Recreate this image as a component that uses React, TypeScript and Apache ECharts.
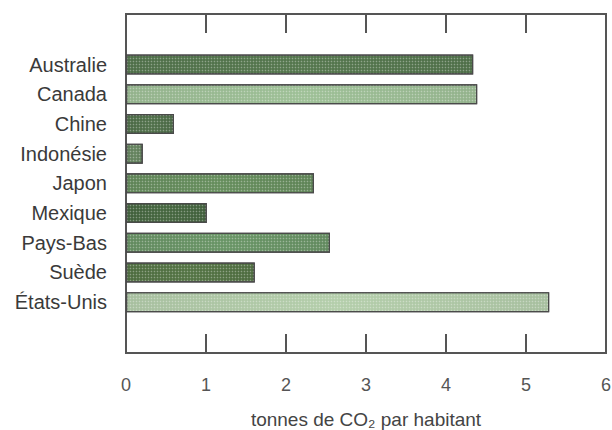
import React, { useEffect, useRef } from "react";
import * as echarts from "echarts";

const countries = ["Australie", "Canada", "Chine", "Indonésie", "Japon", "Mexique", "Pays-Bas", "Suède", "États-Unis"];
const emissions = [4.34, 4.39, 0.6, 0.21, 2.35, 1.01, 2.55, 1.61, 5.29];
const barColors = ["#4f6f49", "#93b28c", "#4b6946", "#5f7c59", "#5f8457", "#41603c", "#628a5f", "#4e6c40", "#a7bf9f"];
const axisName = "tonnes de CO₂ par habitant";

const FONT = "'Liberation Sans', Arial, Helvetica, sans-serif";

export default function App() {
  const ref = useRef<HTMLDivElement>(null);
  useEffect(() => {
    if (!ref.current) return;
    const chart = echarts.init(ref.current, undefined, { renderer: "svg" });
    const L = 126;
    const R = 6;
    chart.setOption({
      animation: false,
      backgroundColor: "#ffffff",
      aria: { enabled: true, decal: { show: true } },
      grid: [
        { left: L, right: R, top: 14, bottom: 77, show: true, borderColor: "#555555", borderWidth: 2, backgroundColor: "transparent", outerBoundsMode: "none", containLabel: false },
        { left: L, right: R, top: 49.7, bottom: 113, show: false, outerBoundsMode: "none", containLabel: false },
      ],
      xAxis: [
        {
          gridIndex: 0, type: "value", min: 0, max: 6, interval: 1, position: "bottom",
          axisLine: { show: true, lineStyle: { color: "#555555", width: 2 } },
          axisTick: { show: true, inside: true, length: 19, lineStyle: { color: "#555555", width: 2 } },
          splitLine: { show: false },
          axisLabel: { show: true, margin: 23, fontSize: 18, color: "#555555", fontFamily: FONT },
          name: axisName, nameLocation: "middle", nameGap: 57,
          nameTextStyle: { fontSize: 19, color: "#444444", fontFamily: FONT },
        },
        {
          gridIndex: 0, type: "value", min: 0, max: 6, interval: 1, position: "top",
          axisLine: { show: true, lineStyle: { color: "#555555", width: 2 } },
          axisTick: { show: true, inside: true, length: 19, lineStyle: { color: "#555555", width: 2 } },
          splitLine: { show: false },
          axisLabel: { show: false },
        },
        {
          gridIndex: 1, type: "value", min: 0, max: 6, show: false,
        },
      ],
      yAxis: [
        { gridIndex: 0, type: "value", show: false, min: 0, max: 1 },
        {
          gridIndex: 1, type: "category", data: countries, inverse: true,
          axisLine: { show: false }, axisTick: { show: false },
          axisLabel: { margin: 19, fontSize: 20, color: "#3a3a3a", fontFamily: FONT },
        },
      ],
      series: [
        {
          type: "bar",
          xAxisIndex: 2,
          yAxisIndex: 1,
          barWidth: 20,
          data: emissions.map((v, i) => ({
            value: v,
            itemStyle: {
              color: new echarts.graphic.LinearGradient(0, 0, 1, 0, [
                { offset: 0, color: barColors[i] },
                { offset: 0.5, color: echarts.color.lift(barColors[i], -0.08) },
                { offset: 1, color: barColors[i] },
              ]),
              borderColor: "#4a4a4a",
              borderWidth: 1.2,
              decal: {
                symbol: "circle",
                symbolSize: 0.5,
                color: "rgba(255,255,255,0.35)",
                dashArrayX: [3, 0],
                dashArrayY: [3, 0],
                rotation: 0,
              },
            },
          })),
        },
      ],
    });
    return () => chart.dispose();
  }, []);
  return <div ref={ref} style={{ width: 612, height: 430, position: "absolute", left: 0, top: 0 }} />;
}
